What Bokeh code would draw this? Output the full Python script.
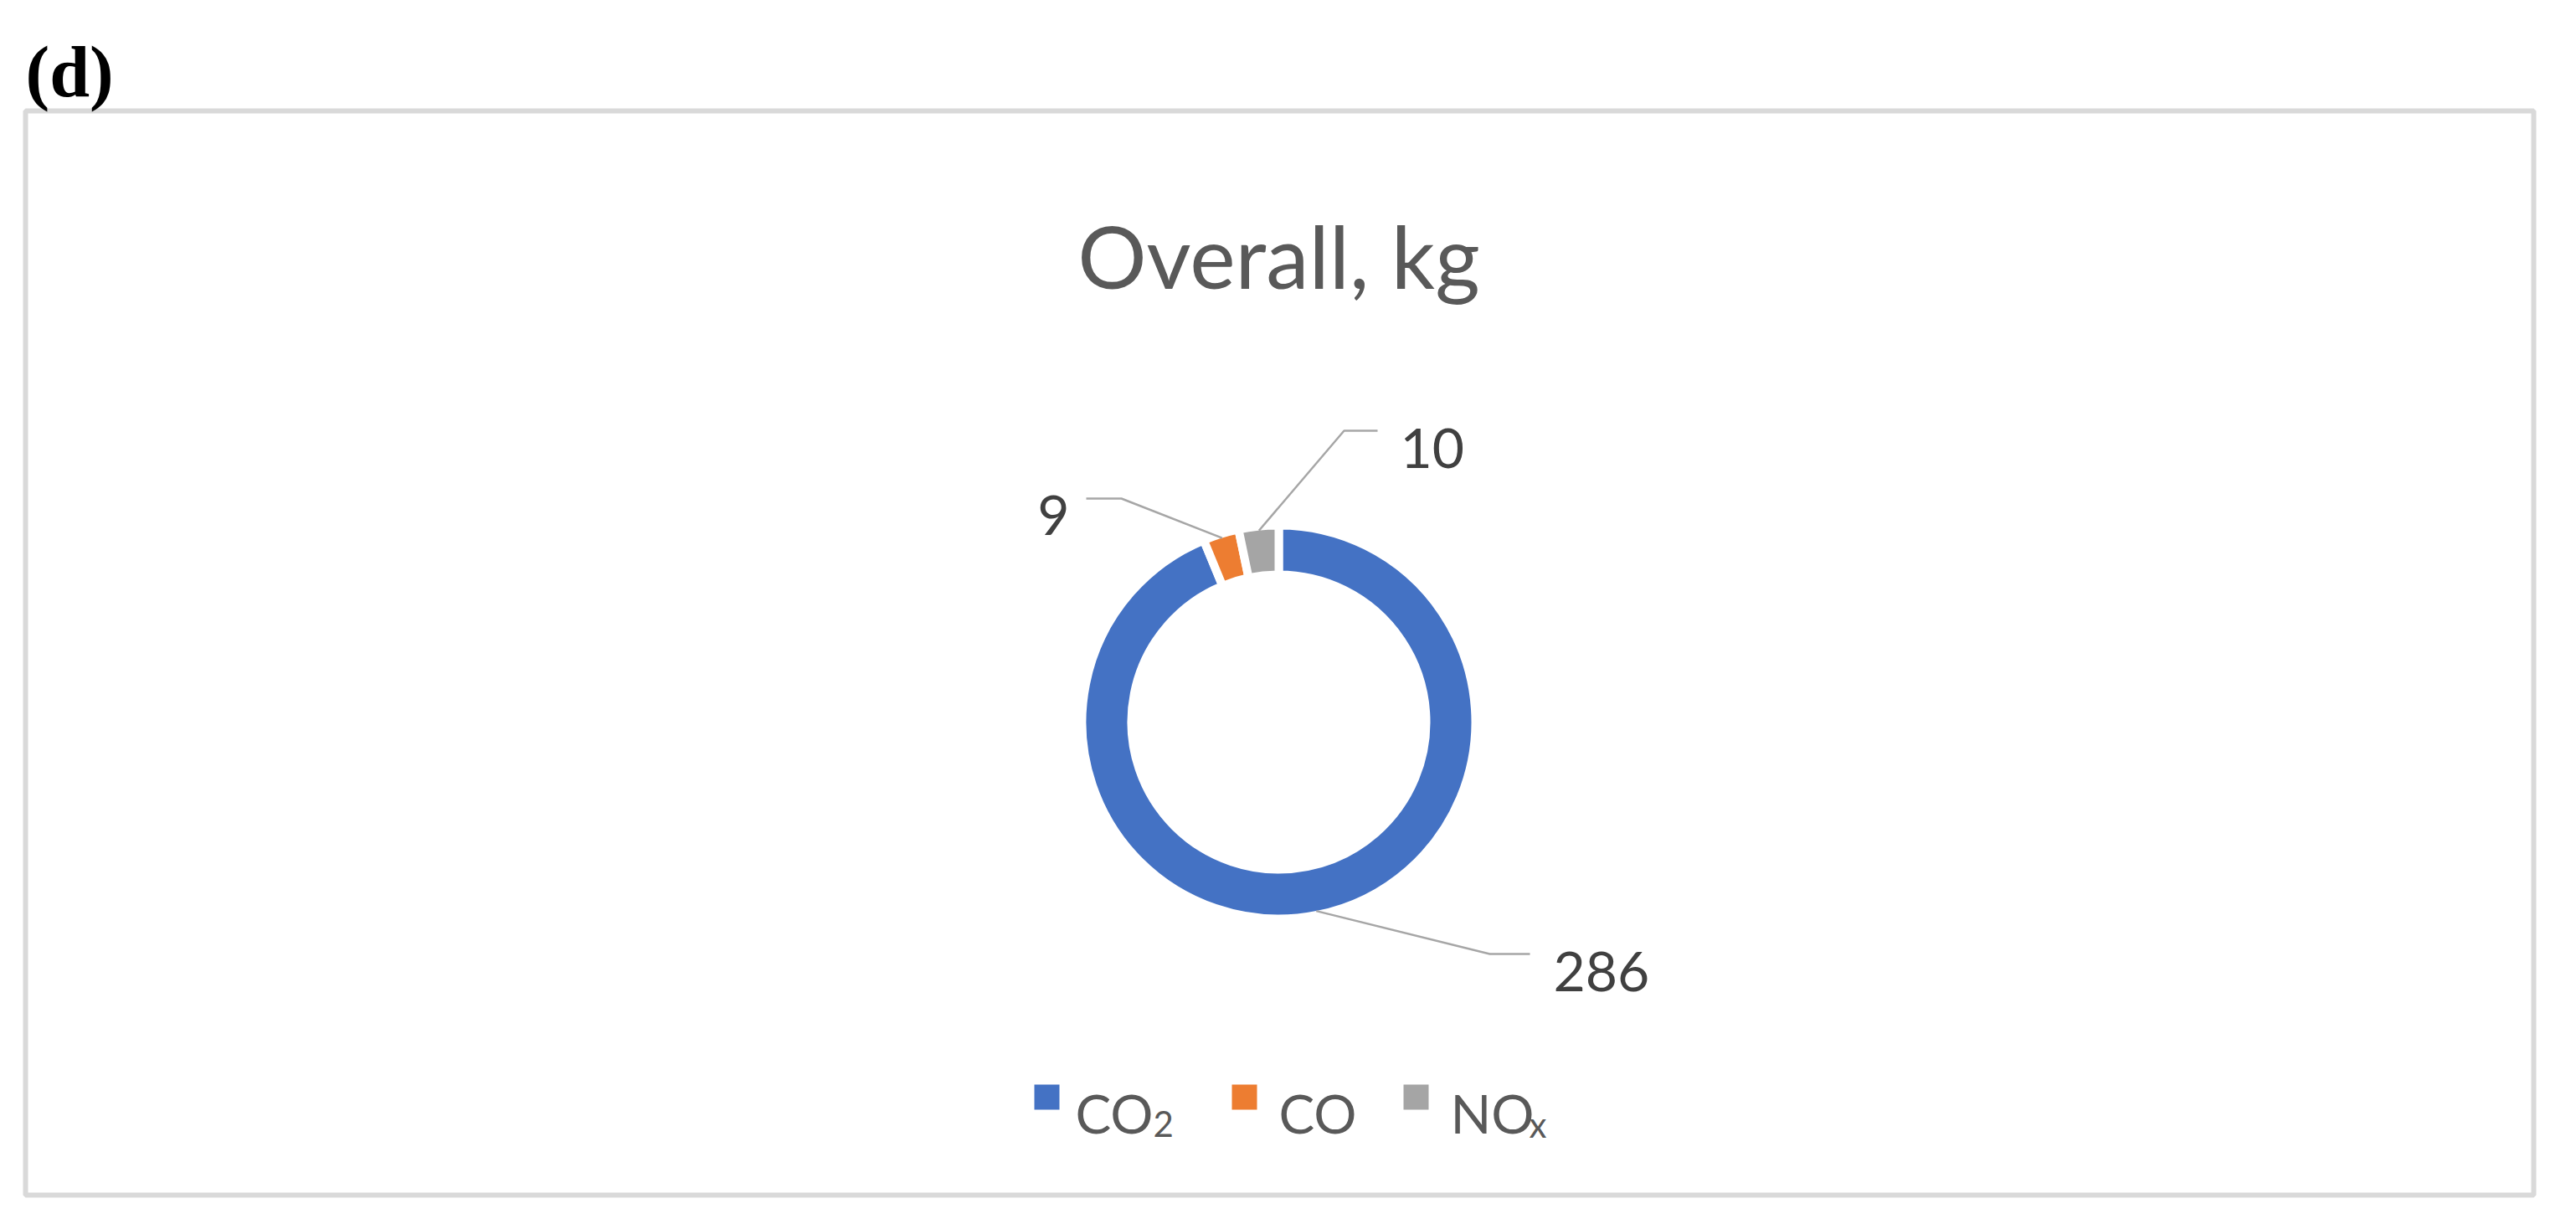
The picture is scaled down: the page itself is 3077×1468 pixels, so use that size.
import math
from bokeh.plotting import figure
from bokeh.models import Range1d, ColumnDataSource
from bokeh.core.properties import value
from bokeh.embed import file_html
from bokeh.resources import INLINE

# ---- data ----
panel_tag = "(d)"
title_text = "Overall, kg"
series_base = ["CO", "CO", "NO"]
series_sub = ["2", "", "x"]
values = [286, 9, 10]
colors = ["#4472C4", "#ED7D31", "#A5A5A5"]

# ---- canvas (page pixels mapped 1:1 to data units) ----
W, H = 3061, 1452


def X(xf):
    return xf - 8


def Y(yf):
    return 1460 - yf


p = figure(width=W, height=H, x_range=Range1d(0, W), y_range=Range1d(0, H),
           output_backend="svg", toolbar_location=None,
           x_axis_type=None, y_axis_type=None, min_border=0)
p.grid.visible = False
p.outline_line_color = None
p.background_fill_color = "white"
p.border_fill_color = "white"

# chart frame
p.quad(left=[X(38)], right=[X(3034)], top=[Y(140)], bottom=[Y(1435)],
       fill_color=None, line_color="#D9D9D9", line_width=6)

# panel tag
p.text(x=[X(38)], y=[Y(93)], text=[panel_tag], text_font=value("Liberation Serif"),
       text_font_style="bold", text_font_size="86px", text_color="black",
       text_align="left", text_baseline="alphabetic")

# title
p.text(x=[X(1535)], y=[Y(312)], text=[title_text], text_font=value("Lato"),
       text_font_size="103px", text_color="#595959",
       text_align="center", text_baseline="alphabetic")

# ---- donut ----
cx, cy = 1535, 870
r_out, r_in = 235, 176
total = float(sum(values))
cum = [0.0]
for v in values:
    cum.append(cum[-1] + v)
starts = [math.radians(90 - cum[i + 1] / total * 360) for i in range(len(values))]
ends = [math.radians(90 - cum[i] / total * 360) for i in range(len(values))]
src = ColumnDataSource(dict(start=starts, end=ends, color=colors))
p.annular_wedge(x=X(cx), y=Y(cy), inner_radius=r_in, outer_radius=r_out,
                start_angle="start", end_angle="end", fill_color="color",
                line_color="white", line_width=10, source=src)

# ---- data labels with leader lines ----
r_anchor = 230
label_layout = [
    dict(elbow=(1787, 1147), end=(1835, 1147), text=(1863, 1168), align="left"),
    dict(elbow=(1347, 603), end=(1305, 603), text=(1285, 623), align="right"),
    dict(elbow=(1613, 522), end=(1653, 522), text=(1680, 543), align="left"),
]
for i, v in enumerate(values):
    mid = (starts[i] + ends[i]) / 2
    ax = cx + r_anchor * math.cos(mid)
    ay = cy - r_anchor * math.sin(mid)
    lay = label_layout[i]
    p.line(x=[X(ax), X(lay["elbow"][0]), X(lay["end"][0])],
           y=[Y(ay), Y(lay["elbow"][1]), Y(lay["end"][1])],
           line_color="#A6A6A6", line_width=2.5)
    p.text(x=[X(lay["text"][0])], y=[Y(lay["text"][1])], text=[str(v)],
           text_font=value("Lato"), text_font_size="66px", text_color="#404040",
           text_align=lay["align"], text_baseline="alphabetic")

# ---- legend ----
leg_square_x = [1258, 1494, 1699]
leg_text_x = [1292, 1535, 1740]
leg_sub_x = [1385, None, 1834]
leg_y = 1318
for i in range(len(values)):
    p.rect(x=[X(leg_square_x[i])], y=[Y(leg_y)], width=30, height=30,
           fill_color=colors[i], line_color=None)
    p.text(x=[X(leg_text_x[i])], y=[Y(1337)], text=[series_base[i]],
           text_font=value("Lato"), text_font_size="64px", text_color="#595959",
           text_align="left", text_baseline="alphabetic")
    if series_sub[i]:
        p.text(x=[X(leg_sub_x[i])], y=[Y(1350)], text=[series_sub[i]],
               text_font=value("Lato"), text_font_size="42px", text_color="#595959",
               text_align="left", text_baseline="alphabetic")

open("out.html", "w").write(file_html(p, INLINE))
